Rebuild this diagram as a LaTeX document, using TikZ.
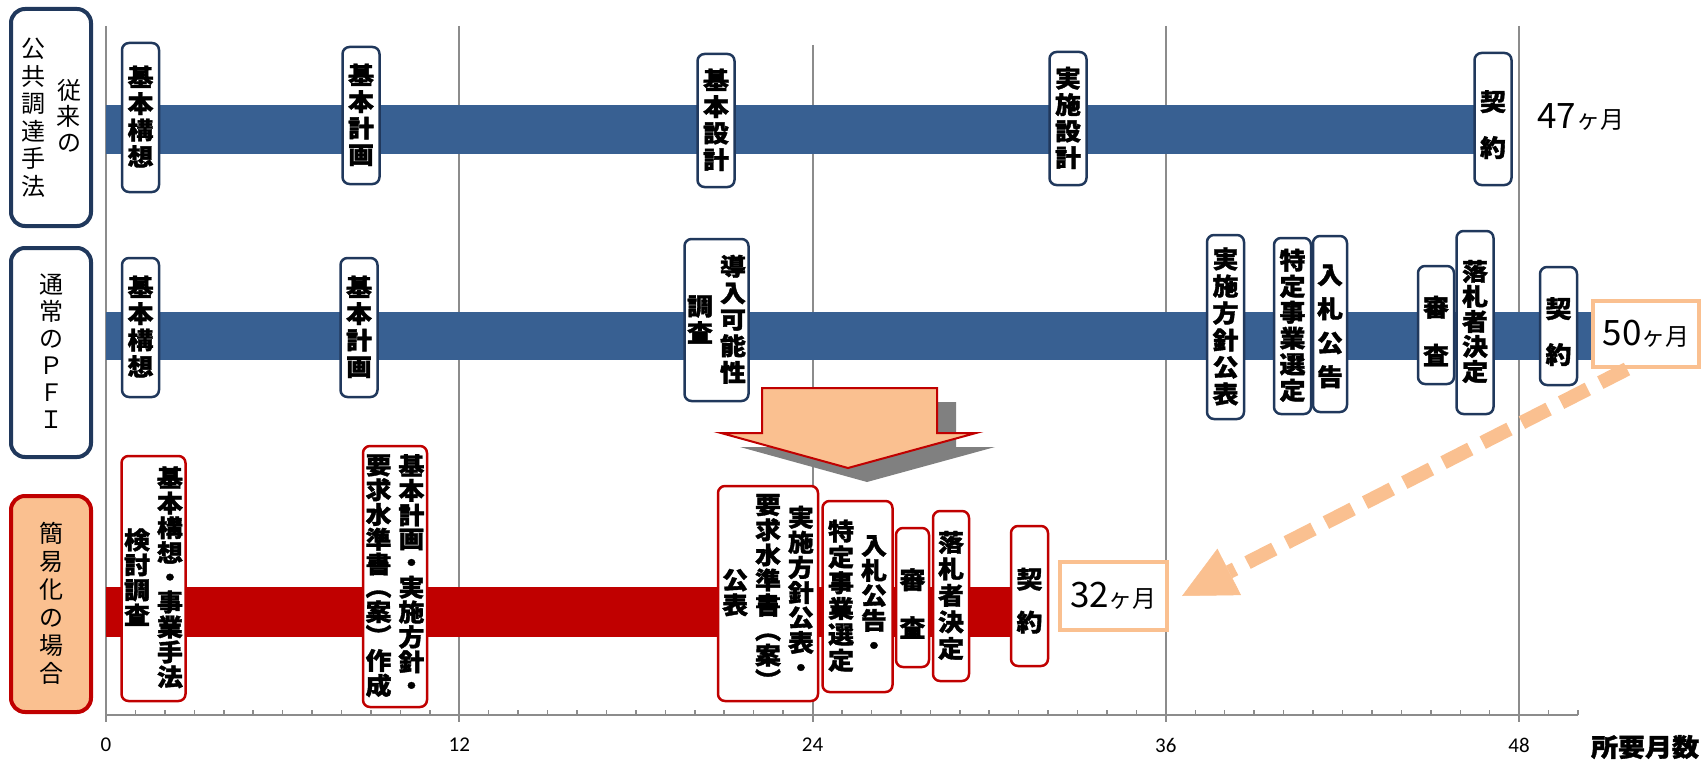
\documentclass[tikz,border=0pt]{standalone}
\usepackage{fontspec}
\setmainfont{Noto Sans CJK JP}
\newfontfamily\boxfont{Noto Sans CJK JP}[BoldFeatures={FakeBold=1.5}, FakeStretch=1.08]
\newfontfamily\numfont{Carlito}
\usetikzlibrary{arrows.meta}

\definecolor{navy}{RGB}{32,56,92}
\definecolor{barblue}{RGB}{56,96,146}
\definecolor{darkred}{RGB}{192,0,0}
\definecolor{peach}{RGB}{250,192,144}
\definecolor{gridgray}{RGB}{140,140,140}
\definecolor{shadowgray}{RGB}{128,128,128}

% one vertical column of characters, optional pitch
\newcommand{\vcol}[2][25pt]{$\vcenter{\offinterlineskip\let\\\cr\halign{\hfil\vrule height .82\dimexpr#1\relax depth .18\dimexpr#1\relax width 0pt\relax##\hfil\cr#2\crcr}}$}
\newcommand{\gap}{\hspace{7pt}}
\newcommand{\months}[1]{{\fontsize{35}{35}\selectfont#1}{\fontsize{24}{24}\selectfont ヶ月}}

\begin{document}
\begin{tikzpicture}[x=1pt, y=-1pt,
    rowlabel/.style={draw=navy, line width=4pt, rounded corners=14pt, fill=white, inner sep=0pt, minimum width=80pt, font=\fontsize{24}{24}\selectfont},
    event/.style={draw=navy, line width=2.5pt, rounded corners=7pt, fill=white, inner sep=0pt, minimum width=37pt, font=\boxfont\fontsize{24}{24}\selectfont\bfseries},
    redevent/.style={event, draw=darkred},
    total/.style={inner sep=0pt},
    totalbox/.style={draw=peach, line width=4pt, fill=white, inner sep=0pt, minimum width=106pt, minimum height=66pt},
    gridline/.style={draw=gridgray, line width=2pt},
    monthtick/.style={draw=gridgray, line width=1.5pt},
    ticklabel/.style={inner sep=0pt, font=\numfont\fontsize{21}{21}\selectfont},
    bluebar/.style={fill=barblue},
    redbar/.style={fill=darkred},
    bigarrow/.style={fill=peach, draw=darkred, line width=2pt},
    arrowshadow/.style={fill=shadowgray},
    dasharrow/.style={draw=peach, line width=14pt, dash pattern=on 30pt off 14pt, -{Triangle[length=53pt, width=52pt, line width=0.5pt]}}
]
\useasboundingbox (0,0) rectangle (1703,760);

\foreach \m in {1,...,50} \draw[monthtick] ({106+29.44*\m},715) -- ++(0,-5);
\foreach \m/\top in {0/26,12/26,24/45,36/26,48/26} {
    \draw[gridline] ({106+29.44*\m},\top) -- ({106+29.44*\m},722);
    \node[ticklabel] (tick\m) at ({106+29.44*\m},745) {\m};
}
\draw[gridline] (106,715) -- ({106+29.44*50},715);
\node[inner sep=0pt, font=\boxfont\fontsize{25}{25}\selectfont\bfseries] (axis-title) at (1645,747) {所要月数};

\fill[bluebar] (106,105) rectangle (1490,154);
\fill[bluebar] (106,312) rectangle (1592,360);
\fill[redbar] (106,587) rectangle (1048,637);

\node[rowlabel, minimum height=217pt] (conv-label) at (51,117.5) {\vcol[27.5pt]{公\\共\\調\\達\\手\\法}\hspace{12pt}\vcol[26pt]{従\\来\\の}};
\node[rowlabel, minimum height=209pt] (pfi-label) at (51,352.5) {\vcol[27pt]{通\\常\\の\\Ｐ\\Ｆ\\Ｉ}};
\node[rowlabel, draw=darkred, fill=peach, minimum height=216pt] (simp-label) at (51,604) {\vcol[28pt]{簡\\易\\化\\の\\場\\合}};

\node[event, minimum height=149pt] (conv-concept) at (140.5,117.5) {\vcol[26.5pt]{基\\本\\構\\想}};
\node[event, minimum height=137pt] (conv-plan) at (361,115.5) {\vcol[26.5pt]{基\\本\\計\\画}};
\node[event, minimum height=133pt] (conv-basic) at (716,120.5) {\vcol[26.5pt]{基\\本\\設\\計}};
\node[event, minimum height=133pt] (conv-detail) at (1068,118.5) {\vcol[26.5pt]{実\\施\\設\\計}};
\node[event, minimum height=132pt] (conv-contract) at (1493,119) {\vcol[46pt]{契\\約}};
\node[total, anchor=base west] (conv-total) at (1537,128) {\months{47}};

\node[event, minimum height=139pt] (pfi-concept) at (140.5,327.5) {\vcol[26.5pt]{基\\本\\構\\想}};
\node[event, minimum height=139pt] (pfi-plan) at (359,327.5) {\vcol[26.5pt]{基\\本\\計\\画}};
\node[event, minimum width=64pt, minimum height=162pt] (pfi-study) at (716.5,320) {\vcol[26.5pt]{調\\査}\gap\vcol[26.5pt]{導\\入\\可\\能\\性}};
\node[event, minimum height=184pt] (pfi-policy) at (1225.5,327) {\vcol[27pt]{実\\施\\方\\針\\公\\表}};
\node[event, minimum height=176pt] (pfi-select) at (1292.5,326) {\vcol[26pt]{特\\定\\事\\業\\選\\定}};
\node[event, minimum width=34pt, minimum height=176pt] (pfi-notice) at (1330,324) {\vcol[34pt]{入\\札\\公\\告}};
\node[event, minimum width=36pt, minimum height=118pt] (pfi-review) at (1436,325) {\vcol[48pt]{審\\査}};
\node[event, minimum height=183pt] (pfi-award) at (1475,322.5) {\vcol[25pt]{落\\札\\者\\決\\定}};
\node[event, minimum height=118pt] (pfi-contract) at (1558.5,326) {\vcol[46pt]{契\\約}};
\node[totalbox] (pfi-total) at (1646,334) {\months{50}};

\node[redevent, minimum width=64pt, minimum height=245pt] (simp-study) at (153.5,578.5) {\vcol{検\\討\\調\\査}\gap\vcol[24.4pt]{基\\本\\構\\想\\・\\事\\業\\手\\法}};
\node[redevent, minimum width=64pt, minimum height=261pt] (simp-plan) at (395,576.5) {\vcol[23pt]{要\\求\\水\\準\\書\\︵\\案\\︶\\作\\成}\gap\vcol[23.7pt]{基\\本\\計\\画\\・\\実\\施\\方\\針\\・}};
\node[redevent, minimum width=100pt, minimum height=215pt] (simp-policy) at (768,593.5) {\vcol{公\\表}\gap\vcol{要\\求\\水\\準\\書\\︵\\案\\︶}\gap\vcol{実\\施\\方\\針\\公\\表\\・}};
\node[redevent, minimum width=70pt, minimum height=191pt] (simp-notice) at (857.5,596.5) {\vcol[25.8pt]{特\\定\\事\\業\\選\\定}\gap\vcol{入\\札\\公\\告\\・}};
\node[redevent, minimum width=33pt, minimum height=139pt] (simp-review) at (912.5,597.5) {\vcol[48pt]{審\\査}};
\node[redevent, minimum width=36pt, minimum height=170pt] (simp-award) at (951,596) {\vcol[26.5pt]{落\\札\\者\\決\\定}};
\node[redevent, minimum height=140pt] (simp-contract) at (1029.5,596) {\vcol[43pt]{契\\約}};
\node[totalbox, minimum width=107pt, minimum height=68pt] (simp-total) at (1113.5,596) {\months{32}};

\fill[arrowshadow] (781,402) -- (956,402) -- (956,447) -- (995,447) -- (867,482) -- (740,447) -- (781,447) -- cycle;
\draw[bigarrow] (762,388) -- (937,388) -- (937,433) -- (976,433) -- (848,468) -- (721,433) -- (762,433) -- cycle;

\draw[dasharrow] ([xshift=-19pt]pfi-total.south) -- ([xshift=13pt]simp-total.east);

\end{tikzpicture}
\end{document}
